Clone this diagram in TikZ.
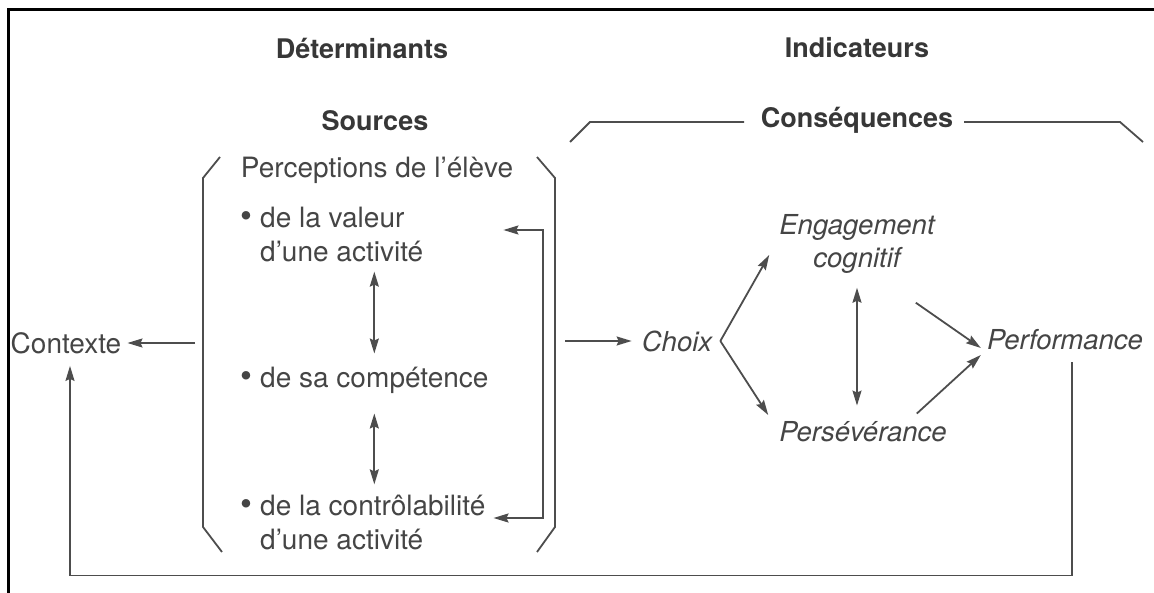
\documentclass[tikz,border=0pt]{standalone}
\usepackage{fontspec}
\setmainfont{TeX Gyre Heros}
\usetikzlibrary{arrows.meta}
\definecolor{ink}{HTML}{454545}
\definecolor{wire}{HTML}{4D4D4D}
\newcommand{\puce}{\llap{{\fontsize{34}{34}\selectfont•}\ }}
\begin{document}
\begin{tikzpicture}[x=1pt,y=-1pt,
        lbl/.style={font=\fontsize{28}{34}\selectfont,text=ink,inner sep=0pt},
        ital/.style={lbl,font=\fontsize{27.5}{33}\selectfont\itshape},
        head/.style={font=\fontsize{27}{31}\selectfont\bfseries,text=ink!80!black,inner sep=0pt},
        wiring/.style={draw=wire,line width=1.8pt},
        arr/.style={wiring,-{Stealth[length=15pt,width=9pt,inset=2pt]}},
        darr/.style={wiring,{Stealth[length=15pt,width=9pt,inset=2pt]}-{Stealth[length=15pt,width=9pt,inset=2pt]}}]
        \useasboundingbox (0,0) rectangle (1154,593);
        \draw[line width=3pt] (8,593) -- (8,10) -- (1154,10);
        % headings
        \node[head] (det) at (362,48) {Déterminants};
        \node[head] (ind) at (857,48) {Indicateurs};
        \node[head] (src) at (375,121) {Sources};
        \node[head] (csq) at (857,120) {Conséquences};
        \draw[wiring] (570,142) -- (590,122) -- (744,122);
        \draw[wiring] (964,122) -- (1120,122) -- (1143,142);
        % sources
        \draw[wiring] (220,157) -- (203,178) -- (203,527) -- (222,552);
        \draw[wiring] (537,157) -- (555,178) -- (555,527) -- (537,552);
        \node[lbl] (perc) at (377,170) {Perceptions de l'élève};
        \node[lbl,anchor=west,align=left] (val) at (260,235) {\puce de la valeur\\d'une activité};
        \node[lbl,anchor=west] (comp) at (260,380) {\puce de sa compétence};
        \node[lbl,anchor=west,align=left] (ctrl) at (260,522) {\puce de la contrôlabilité\\d'une activité};
        \draw[darr,shorten <=9pt,shorten >=13pt] (val.south -| comp.north) -- (comp.north);
        \draw[darr,shorten <=20pt,shorten >=10pt] (comp.south) -- (comp.south |- ctrl.north);
        \draw[darr] ([xshift=80pt,yshift=5pt]val.east) -- ++(40,0) |- ([xshift=8pt,yshift=4pt]ctrl.east);
        % context
        \node[lbl] (ctx) at (66,343) {Contexte};
        \coordinate (srcL) at (195,343);
        \coordinate (srcR) at (565,341);
        \draw[arr,shorten >=6pt] (srcL) -- (ctx);
        % consequences
        \node[ital] (choix) at (677,341) {Choix};
        \node[ital,align=center] (eng) at (857,244) {Engagement\\cognitif};
        \node[ital] (pers) at (863,432) {Persévérance};
        \node[ital] (perf) at (1065,340) {Performance};
        \draw[arr,shorten >=10pt] (srcR) -- (choix);
        \draw[arr] ([xshift=8pt]choix.east) -- ([xshift=-10pt,yshift=-11pt]eng.west);
        \draw[arr] ([xshift=8pt]choix.east) -- ([xshift=-11pt,yshift=17pt]pers.west);
        \draw[darr,shorten <=14pt,shorten >=16pt] (eng.south) -- (eng.south |- pers.north);
        \draw[arr] ([xshift=-19pt,yshift=-29pt]eng.south east) -- ([xshift=-6pt,yshift=-8pt]perf.west);
        \draw[arr] ([xshift=-30pt,yshift=8pt]pers.north east) -- ([xshift=-6pt,yshift=-15pt]perf.west);
        % feedback
        \draw[arr] ([xshift=7pt,yshift=-12pt]perf.south) -- ++(0,213) -| ([xshift=4pt,yshift=-12pt]ctx.south);
    \end{tikzpicture}
\end{document}
